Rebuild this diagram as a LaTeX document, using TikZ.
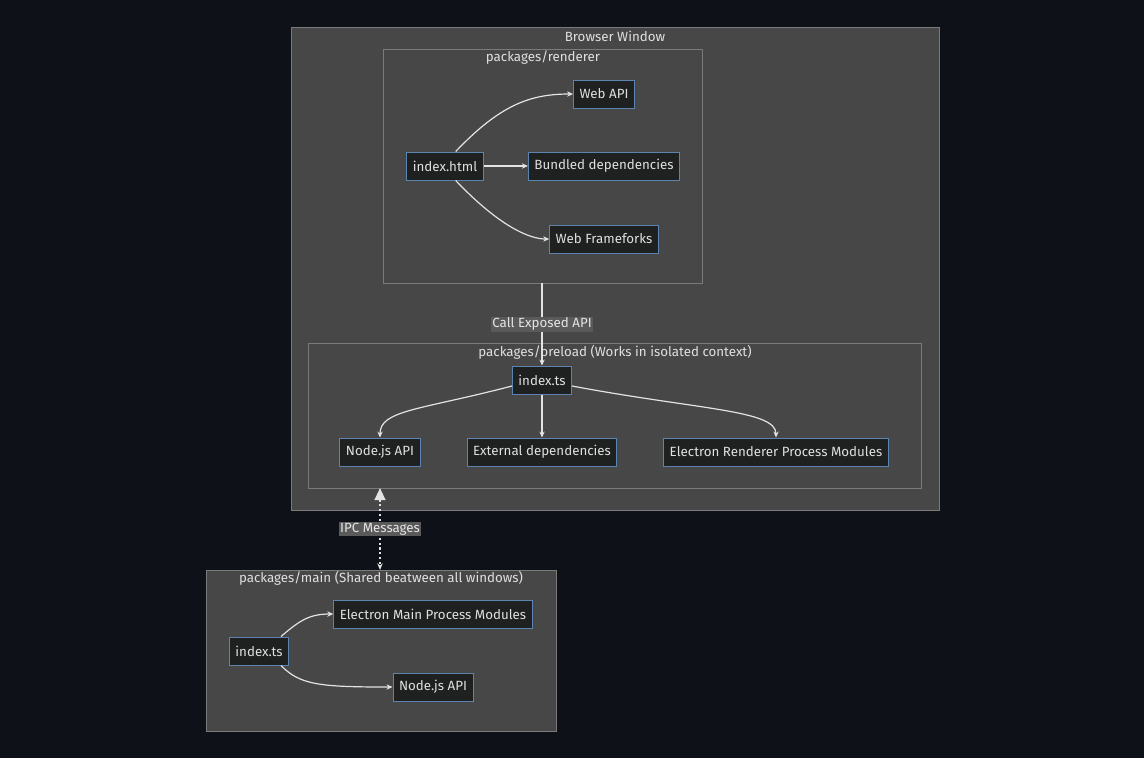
\documentclass[tikz,border=0pt]{standalone}
\usepackage{fontspec}
\setmainfont{Fira Sans}
\usetikzlibrary{arrows.meta}
\definecolor{bgc}{HTML}{0E1117}
\definecolor{clfill}{HTML}{474747}
\definecolor{clline}{HTML}{7A7A7A}
\definecolor{ndfill}{HTML}{1F2020}
\definecolor{ndline}{HTML}{5B84B1}
\definecolor{txt}{HTML}{E0E0E0}
\definecolor{lblbg}{HTML}{5A5A5A}
\tikzset{every picture/.style={line width=0.75pt}}
\tikzset{
  cluster/.style={draw=clline, fill=clfill, line width=0.6pt},
  box/.style={draw=ndline, fill=ndfill, text=txt, font=\fontsize{10}{12}\selectfont, minimum height=21pt, inner xsep=4.5pt},
  title/.style={text=txt, font=\fontsize{10}{12}\selectfont},
  lbl/.style={fill=lblbg, text=txt!85, font=\fontsize{10}{12}\selectfont, inner sep=1pt},
  link/.style={draw=txt!90, line width=0.9pt, -{Stealth[length=4.5pt,width=4pt]}}
}
\begin{document}
\begin{tikzpicture}[x=0.75pt,y=0.75pt,yscale=-1,xscale=1]
		\fill [bgc] (0,0) rectangle (1144,758);
		\useasboundingbox (0,0) rectangle (1144,758);

		% clusters
		\draw [cluster] (291,27) rectangle (939,510);
		\draw [cluster] (383,49) rectangle (702,283);
		\draw [cluster] (308,343) rectangle (921,488);
		\draw [cluster] (206,570) rectangle (556,731);
		\node [title] (tbrowser) at (615,36) {Browser Window};
		\node [title] (trenderer) at (543,58) {packages/renderer};
		\node [title] (tpreload) at (615,352) {packages/preload (Works in isolated context)};
		\node [title] (tmain) at (381,578) {packages/main (Shared beatween all windows)};
		\coordinate (rbottom) at (542,283);
		\coordinate (ptop) at (380,488);
		\coordinate (mtop) at (380,570);

		% renderer
		\node [box] (html) at (445,166) {index.html};
		\node [box] (webapi) at (604,94) {Web API};
		\node [box] (bundled) at (604,166) {Bundled dependencies};
		\node [box] (frameworks) at (604,239) {Web Frameforks};
		\draw [link] (html.north east) ++(-28,0) coordinate (h1) (h1) .. controls (500,105) and (530,94) .. (webapi.west);
		\draw [link] (html) -- (bundled);
		\draw [link] (html.south east) ++(-28,0) coordinate (h2) (h2) .. controls (500,227) and (530,239) .. (frameworks.west);

		% preload
		\node [box] (pindex) at (542,380) {index.ts};
		\node [box] (pnode) at (380,452) {Node.js API};
		\node [box] (external) at (542,452) {External dependencies};
		\node [box] (renderermods) at (776,452) {Electron Renderer Process Modules};
		\draw [link] (pindex.west) ++(0,6) coordinate (p1) (p1) .. controls (420,410) and (380,410) .. (pnode.north);
		\draw [link] (pindex) -- (external);
		\draw [link] (pindex.east) ++(0,6) coordinate (p2) (p2) .. controls (700,410) and (776,410) .. (renderermods.north);

		% main
		\node [box] (mindex) at (259,651) {index.ts};
		\node [box] (mainmods) at (433,614) {Electron Main Process Modules};
		\node [box] (mnode) at (433,687) {Node.js API};
		\draw [link] (mindex.north east) ++(-8,0) coordinate (m1) (m1) .. controls (300,620) and (310,614) .. (mainmods.west);
		\draw [link] (mindex.south east) ++(-8,0) coordinate (m2) (m2) .. controls (300,685) and (320,687) .. (mnode.west);

		% between clusters
		\draw [link] (rbottom) -- node [lbl] {Call Exposed API} (pindex.north);
		\draw [txt!90, line width=1.6pt, dotted, {Triangle[length=9pt,width=8pt]}-{Stealth[length=5pt,width=4pt]}] (ptop) -- node [lbl, solid] {IPC Messages} (mtop);
\end{tikzpicture}
\end{document}
